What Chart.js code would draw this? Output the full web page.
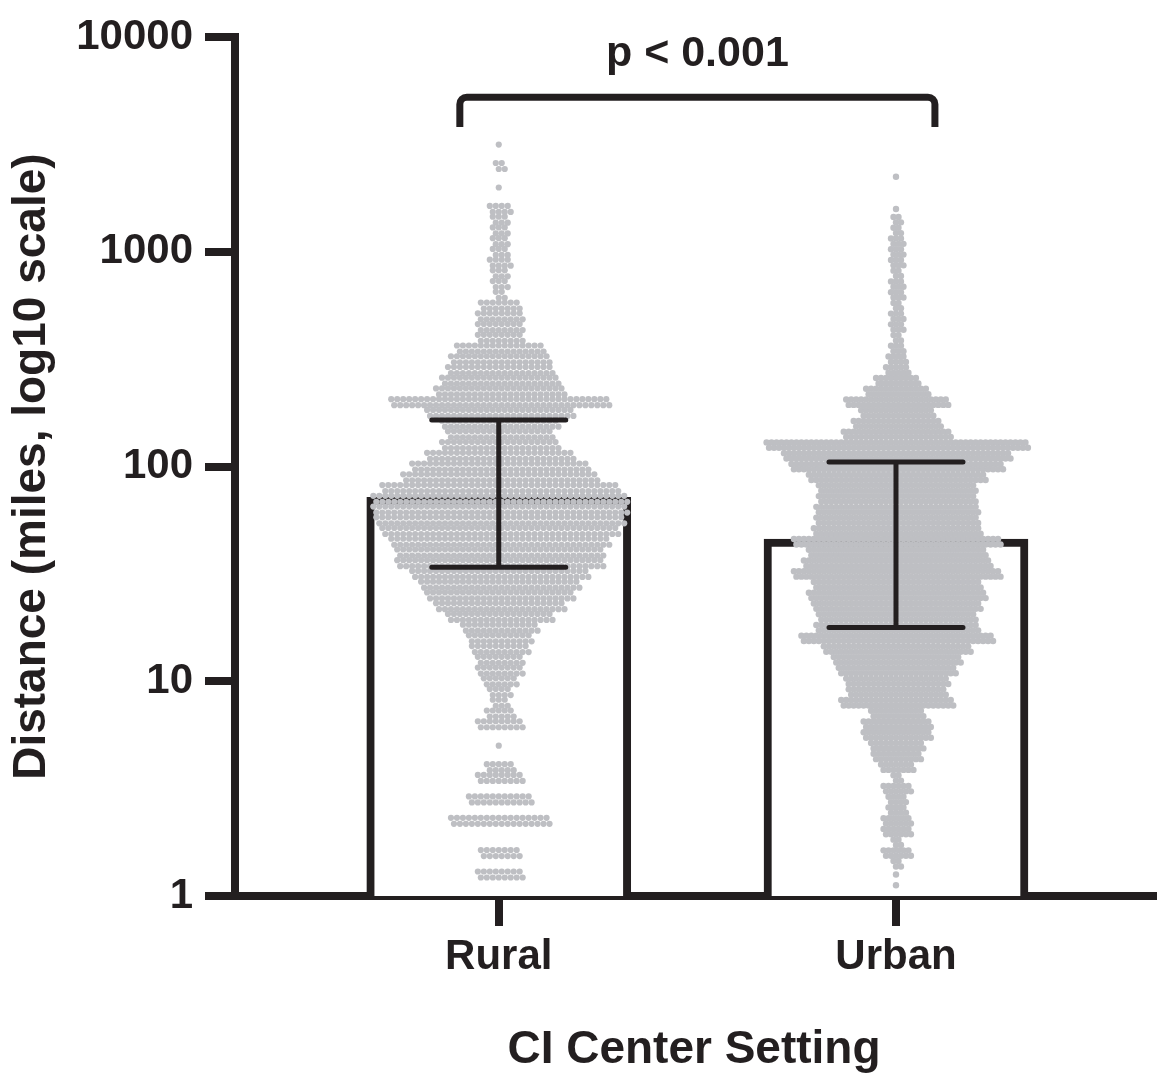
<!DOCTYPE html>
<html>
<head>
<meta charset="utf-8">
<script src="https://cdn.jsdelivr.net/npm/chart.js@4.4.1/dist/chart.umd.min.js"></script>
<style>
  html, body { margin: 0; padding: 0; background: #fff; }
  #wrap { width: 1157px; height: 1074px; }
</style>
</head>
<body>
<div id="wrap"><canvas id="chart"></canvas></div>
<script>
// categories and summary values (bar = centre, whiskers = spread)
var categories = ["Rural", "Urban"];
var barValues = [72, 46];
var errLow = [34, 17.8];
var errHigh = [165, 105];
var yTicks = [1, 10, 100, 1000, 10000];
var pLabel = "p < 0.001";

var binMiles = [1.00, 1.122, 1.259, 1.413, 1.585, 1.778, 1.995, 2.239, 2.512, 2.818,
  3.162, 3.548, 3.981, 4.467, 5.012, 5.623, 6.310, 7.079, 7.943, 8.913,
  10.0, 11.22, 12.59, 14.13, 15.85, 17.78, 19.95, 22.39, 25.12, 28.18,
  31.62, 35.48, 39.81, 44.67, 50.12, 56.23, 63.10, 70.79, 79.43, 89.13,
  100, 112.2, 125.9, 141.3, 158.5, 177.8, 199.5, 223.9, 251.2, 281.8,
  316.2, 354.8, 398.1, 446.7, 501.2, 562.3, 631.0, 707.9, 794.3, 891.3,
  1000, 1122, 1259, 1413, 1585, 1778, 1995, 2239, 2512, 2818, 3162];
var ruralCounts = [0, 0, 8, 0, 7, 0, 0, 17, 0, 11,
  0, 8, 5, 0, 1, 0, 8, 5, 3, 4,
  6, 8, 8, 10, 11, 13, 18, 22, 25, 27,
  30, 35, 35, 37, 40, 42, 43, 43, 40, 33,
  30, 25, 20, 18, 20, 25, 37, 22, 20, 18,
  17, 15, 8, 8, 8, 7, 2, 3, 3, 4,
  3, 3, 3, 3, 4, 0, 1, 0, 2, 0, 1];
var urbanCounts = [0, 1, 1, 2, 6, 2, 6, 6, 4, 4,
  6, 2, 7, 10, 11, 14, 14, 11, 23, 20,
  21, 24, 26, 30, 39, 33, 32, 34, 36, 34,
  42, 38, 36, 42, 34, 33, 33, 32, 32, 36,
  43, 46, 53, 22, 18, 15, 21, 13, 9, 5,
  4, 3, 2, 3, 3, 2, 3, 3, 2, 3,
  3, 3, 2, 2, 1, 0, 0, 1, 0, 0, 0];

var ink = "#231f20";
var dotColor = "rgb(190,191,195)";
var fontFamily = "'Liberation Sans', Arial, Helvetica, sans-serif";

// error bars + significance bracket drawn over the datasets
var overlay = {
  id: "overlay",
  afterDatasetsDraw: function (chart) {
    var ctx = chart.ctx, xs = chart.scales.x, ys = chart.scales.y;
    ctx.save();
    ctx.strokeStyle = ink;
    ctx.lineWidth = 5;
    ctx.lineCap = "round";
    categories.forEach(function (c, i) {
      var x = xs.getPixelForValue(i + 1);
      var top = ys.getPixelForValue(errHigh[i]);
      var bot = ys.getPixelForValue(errLow[i]);
      ctx.beginPath();
      ctx.moveTo(x, top); ctx.lineTo(x, bot);
      ctx.moveTo(x - 67, top); ctx.lineTo(x + 67, top);
      ctx.moveTo(x - 67, bot); ctx.lineTo(x + 67, bot);
      ctx.stroke();
    });

    var x1 = xs.getPixelForValue(0.902), x2 = xs.getPixelForValue(2.098);
    var yb = ys.getPixelForValue(5250), yl = ys.getPixelForValue(3820);
    ctx.lineWidth = 7;
    ctx.lineCap = "butt";
    ctx.lineJoin = "round";
    ctx.beginPath();
    ctx.moveTo(x1, yl);
    ctx.arcTo(x1, yb, x2, yb, 7);
    ctx.arcTo(x2, yb, x2, yl, 7);
    ctx.lineTo(x2, yl);
    ctx.stroke();

    ctx.fillStyle = ink;
    ctx.font = "bold 43px " + fontFamily;
    ctx.textAlign = "center";
    ctx.textBaseline = "middle";
    ctx.fillText(pLabel, (x1 + x2) / 2, ys.getPixelForValue(8300));
    ctx.restore();
  }
};

var ctx = document.getElementById("chart").getContext("2d");
var chart = new Chart(ctx, {
  type: "bar",
  data: {
    datasets: [
      {
        type: "bar",
        data: barValues.map(function (v, i) { return { x: i + 1, y: v }; }),
        backgroundColor: "#ffffff",
        borderColor: ink,
        borderWidth: 8,
        borderSkipped: "bottom",
        barThickness: 264,
        order: 2
      },
      {
        type: "scatter",
        data: [],
        pointRadius: 3.1,
        pointBackgroundColor: dotColor,
        pointBorderWidth: 0,
        order: 1
      },
      {
        type: "scatter",
        data: [],
        pointRadius: 3.2,
        pointBackgroundColor: dotColor,
        pointBorderWidth: 0,
        order: 1
      }
    ]
  },
  options: {
    responsive: true,
    maintainAspectRatio: false,
    animation: false,
    layout: { padding: { top: 31, left: 0, right: 0, bottom: 0 } },
    plugins: { legend: { display: false }, tooltip: { enabled: false } },
    scales: {
      x: {
        type: "linear",
        offset: false,
        min: 0.336,
        max: 2.647,
        afterBuildTicks: function (scale) {
          scale.ticks = [{ value: 1 }, { value: 2 }];
        },
        afterFit: function (scale) { scale.height = 178; },
        ticks: {
          padding: 6,
          color: ink,
          font: { family: fontFamily, size: 42, weight: "bold" },
          callback: function (v) { return categories[v - 1]; }
        },
        grid: { offset: false, drawOnChartArea: false, tickLength: 30, lineWidth: 8, color: ink },
        border: { display: true, width: 8, color: ink },
        title: {
          display: true,
          text: "CI Center Setting",
          color: ink,
          font: { family: fontFamily, size: 46, weight: "bold", lineHeight: 1 },
          padding: { top: 0, bottom: 1 }
        }
      },
      y: {
        type: "logarithmic",
        min: 1,
        max: 10000,
        afterBuildTicks: function (scale) {
          scale.ticks = yTicks.map(function (v) { return { value: v }; });
        },
        afterFit: function (scale) { scale.width = 235; },
        ticks: {
          padding: 12,
          color: ink,
          font: { family: fontFamily, size: 42, weight: "bold" },
          callback: function (v) { return String(v); }
        },
        grid: { drawOnChartArea: false, tickLength: 30, lineWidth: 8, color: ink },
        border: { display: true, width: 8, color: ink },
        title: {
          display: true,
          text: "Distance (miles, log10 scale)",
          color: ink,
          font: { family: fontFamily, size: 46, weight: "bold", lineHeight: 1 },
          padding: { top: 9, bottom: 0 }
        }
      }
    }
  },
  plugins: [overlay]
});

// lay the dots out as a swarm: each bin holds two rows of dots packed around the category centre
// rural swarm is looser in the reference, urban is tightly packed
var swarmLayout = [{ gap: 6, rowOff: 3 }, { gap: 5, rowOff: 2.7 }];
function buildSwarm(chart) {
  var xs = chart.scales.x, ys = chart.scales.y;
  [ruralCounts, urbanCounts].forEach(function (counts, g) {
    var gap = swarmLayout[g].gap, rowOff = swarmLayout[g].rowOff;
    var pts = [];
    var cx = xs.getPixelForValue(g + 1);
    counts.forEach(function (n, i) {
      if (!n) return;
      var py = ys.getPixelForValue(binMiles[i]);
      var rows = n >= 2 ? [-rowOff, rowOff] : [0];
      rows.forEach(function (dy, r) {
        var shift = r === 1 ? gap / 2 : 0;
        for (var k = 0; k < n; k++) {
          var px = cx + (k - (n - 1) / 2) * gap + shift;
          pts.push({ x: xs.getValueForPixel(px), y: ys.getValueForPixel(py + dy) });
        }
      });
    });
    chart.data.datasets[g + 1].data = pts;
  });
  chart.update();
}
buildSwarm(chart);
</script>
</body>
</html>
